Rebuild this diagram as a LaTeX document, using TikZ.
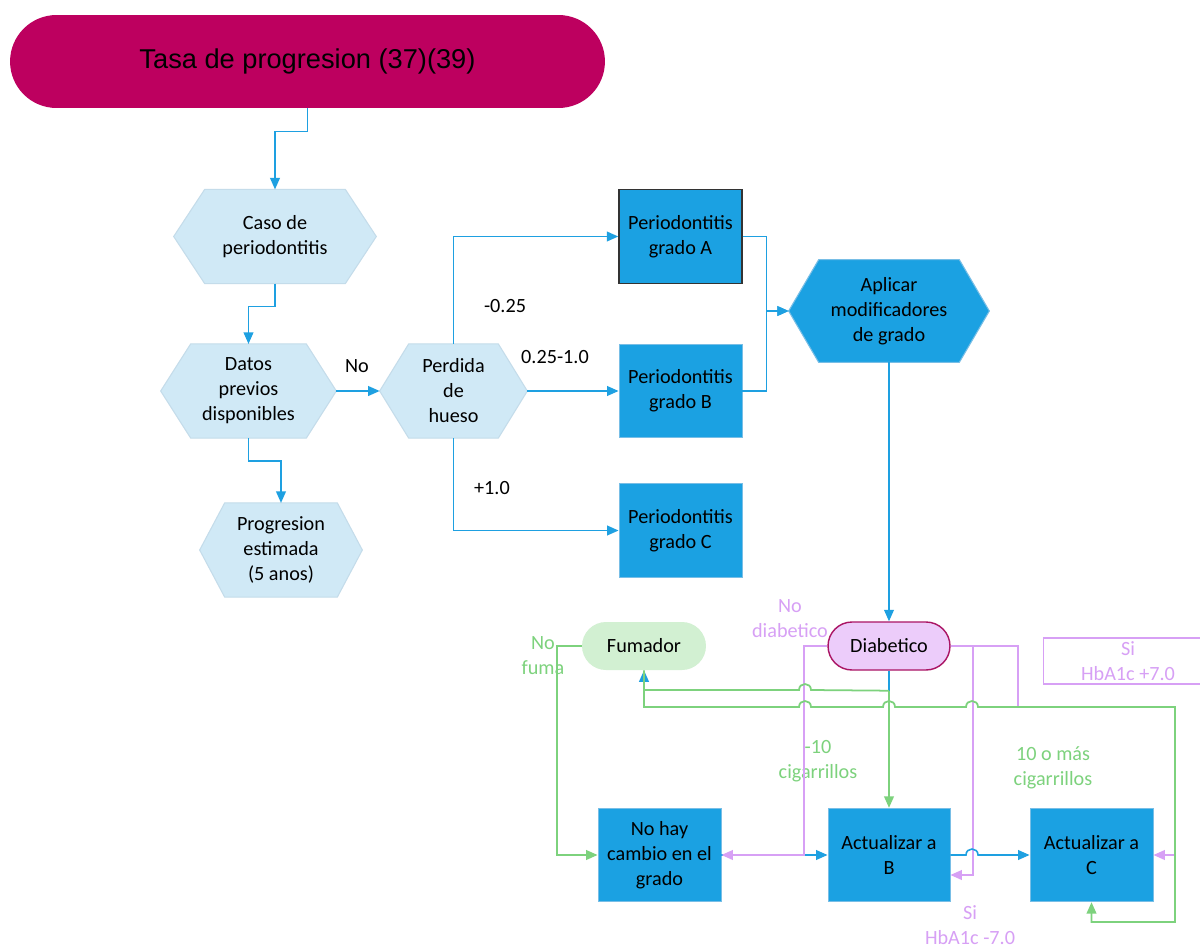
\documentclass[tikz,border=0pt]{standalone}
\usepackage{fontspec}
\setmainfont{Carlito}
\newfontfamily\arialfont{Liberation Sans}
\usetikzlibrary{arrows.meta,shapes.misc,backgrounds,calc}

\definecolor{titlered}{RGB}{189,0,95}
\definecolor{hexblue}{RGB}{208,233,246}
\definecolor{hexedge}{RGB}{196,220,234}
\definecolor{boxblue}{RGB}{27,161,226}
\definecolor{boxedge}{RGB}{120,190,230}
\definecolor{linkblue}{RGB}{30,160,225}
\definecolor{diabfill}{RGB}{236,204,250}
\definecolor{diabedge}{RGB}{170,20,100}
\definecolor{fumfill}{RGB}{210,240,210}
\definecolor{lgreen}{RGB}{125,210,125}
\definecolor{lpurple}{RGB}{215,160,245}

% hexagon drawn behind a rectangular text node: name, side inset (px), style
\newcommand\hexshape[3]{%
  \path[#3] (#1.west) -- ($(#1.north west)+(#2,0)$) -- ($(#1.north east)+(-#2,0)$)
    -- (#1.east) -- ($(#1.south east)+(-#2,0)$) -- ($(#1.south west)+(#2,0)$) -- cycle;}

\tikzset{
  txt/.style={font=\fontsize{11.5}{14.2}\selectfont, align=center, inner sep=0pt, text=black},
  hexnode/.style={txt, rectangle, minimum width=#1, minimum height=1.87cm},
  gbox/.style={txt, rectangle, fill=boxblue, draw=boxedge, line width=0.5pt,
               minimum width=2.46cm, minimum height=1.87cm},
  pill/.style={txt, rounded rectangle, minimum height=0.96cm},
  lbl/.style={txt},
  glbl/.style={txt, text=lgreen},
  plbl/.style={txt, text=lpurple},
  tip/.style={-{Triangle[length=6.5pt,width=5.5pt]}},
  bl/.style={draw=linkblue, line width=0.9pt, tip},
  blplain/.style={draw=linkblue, line width=0.9pt},
  gl/.style={draw=lgreen, line width=1pt, tip},
  pl/.style={draw=lpurple, line width=1pt, tip},
}

\begin{document}
\begin{tikzpicture}[x=0.02cm, y=-0.02cm]
\useasboundingbox (0,0) rectangle (1200,950);

% ---------- nodes ----------
\node[rounded rectangle, fill=titlered, minimum width=11.9cm, minimum height=1.86cm,
      inner sep=0pt, font=\arialfont\fontsize{15.5}{18}\selectfont] (title) at (307.5,61.5)
      {Tasa de progresion (37)(39)};

\node[hexnode=4.04cm] (caso)  at (275,236.5) {Caso de\\periodontitis};
\node[hexnode=3.5cm]  (datos) at (248.5,391) {Datos\\previos\\disponibles};
\node[hexnode=3.24cm] (prog)  at (281,550)   {Progresion\\estimada\\(5 anos)};
\node[hexnode=2.94cm] (perd)  at (453.5,391) {Perdida\\de\\hueso};
\node[hexnode=4.0cm, minimum height=2.04cm] (aplic) at (889,311) {Aplicar\\modificadores\\de grado};

\node[gbox, draw=black!80, line width=0.8pt] (gA) at (680.5,236.5) {Periodontitis\\grado A};
\node[gbox] (gB) at (680.5,391)   {Periodontitis\\grado B};
\node[gbox] (gC) at (680.5,530.5) {Periodontitis\\grado C};

\node[pill, fill=diabfill, draw=diabedge, line width=0.8pt, minimum width=2.44cm] (diab) at (889,646) {Diabetico};
\node[pill, fill=fumfill, minimum width=2.48cm] (fum) at (644,646) {Fumador};

\node[gbox] (nohay) at (659.5,855) {No hay\\cambio en el\\grado};
\node[gbox, minimum width=2.44cm] (actB) at (889,855) {Actualizar a\\B};
\node[gbox] (actC) at (1091.5,855) {Actualizar a\\C};

\node[plbl, draw=lpurple, line width=0.6pt, minimum width=3.4cm, minimum height=0.92cm] (siplus) at (1128,661) {Si\\HbA1c +7.0};

% ---------- shapes behind the text ----------
\begin{scope}[on background layer]
  \fill[white] (0,0) rectangle (1200,950);
  \hexshape{caso}{31}{fill=hexblue, draw=hexedge, line width=0.6pt}
  \hexshape{datos}{30}{fill=hexblue, draw=hexedge, line width=0.6pt}
  \hexshape{prog}{25}{fill=hexblue, draw=hexedge, line width=0.6pt}
  \hexshape{perd}{29}{fill=hexblue, draw=hexedge, line width=0.6pt}
  \hexshape{aplic}{30}{fill=boxblue, draw=boxedge, line width=0.6pt}
\end{scope}

% ---------- labels ----------
\node[lbl] (lno)  at (357,366) {No};
\node[lbl] (la)   at (505,306) {-0.25};
\node[lbl] (lb)   at (555,357) {0.25-1.0};
\node[lbl] (lc)   at (492,488) {+1.0};
\node[glbl] (lnofuma) at (543,656) {No\\fuma};
\node[plbl] (lnodiab) at (790,619) {No\\diabetico};
\node[glbl] (lmenos)  at (818,761) {-10\\cigarrillos};
\node[glbl] (lmas)    at (1053,768) {10 o más\\cigarrillos};
\node[plbl] (lsimen)  at (970,925) {Si\\HbA1c -7.0};

% ---------- upper flow ----------
\draw[bl] (title.south) -- ++(0,23) -| (caso.north);
\draw[bl] (caso.south) -- ++(0,23) -| (datos.north);
\draw[bl] (datos.south) -- ++(0,23) -| (prog.north);
\draw[bl] (datos.east) -- (perd.west);
\draw[bl] (perd.north) |- (gA.west);
\draw[bl] (perd.east) -- (gB.west);
\draw[bl] (perd.south) |- (gC.west);
\draw[bl] (gA.east) -- ++(24,0) |- (aplic.west);
\draw[bl] (gB.east) -- ++(24,0) |- (aplic.west);
\draw[bl] (aplic.south) -- (diab.north);

% ---------- grade modifiers ----------
\coordinate (j1) at ($(diab.south)+(0,20)$);

% diabetic with HbA1c over 7.0 -> C
\draw[pl] (diab.east) -| (1018,707) -- (1175,707) -- (1175,855) -- (actC.east);
% diabetic with HbA1c under 7.0 -> B
\draw[pl] (diab.east) -- ++(22,0) |- ([yshift=-0.4cm]actB.east);
% no change -> B
\draw[bl] (nohay.east) -- (actB.west);
% not diabetic -> no change
\draw[pl] (diab.west) -- ++(-23,0) |- (nohay.east);
% non smoker -> no change
\draw[gl] (fum.west) -- ++(-25,0) |- (nohay.west);

% diabetic -> smoker
\draw[blplain] (diab.south) -- (j1);
\draw[draw=lgreen, line width=1pt, -{Triangle[length=6.5pt,width=5.5pt,color=linkblue]}]
  (j1) -- (811,690) .. controls (811,682) and (799,682) .. (799,690) -| (fum.south);
% under 10 cigarettes -> B
\draw[gl] (j1) -- (actB.north);
% 10 or more cigarettes -> C
\draw[gl] (fum.south) |- (799,707) .. controls (799,699) and (811,699) .. (811,707)
  -- (883,707) .. controls (883,699) and (895,699) .. (895,707)
  -- (966,707) .. controls (966,699) and (978,699) .. (978,707)
  -- (1175,707) |- (1091.5,922) -- (actC.south);
% B -> C
\draw[bl] (actB.east) -- (966,855) .. controls (966,847) and (978,847) .. (978,855) -- (actC.west);
\end{tikzpicture}
\end{document}
